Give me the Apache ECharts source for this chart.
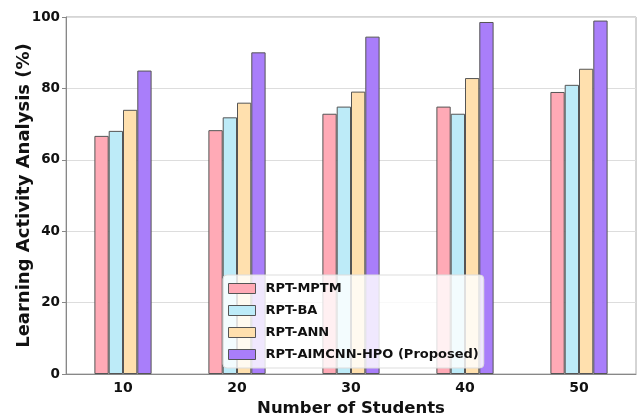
<!DOCTYPE html>
<html>
<head>
<meta charset="utf-8">
<script src="https://cdn.jsdelivr.net/npm/echarts@6/dist/echarts.min.js"></script>
<style>html,body{margin:0;padding:0;background:#fff}#c{width:638px;height:418px}</style>
</head>
<body>
<div id="c"></div>
<script>
var categories = ['10', '20', '30', '40', '50'];
var seriesNames = ['RPT-MPTM', 'RPT-BA', 'RPT-ANN', 'RPT-AIMCNN-HPO (Proposed)'];
var mptm = [66.7, 68.3, 72.9, 74.9, 79.0];
var ba = [68.1, 71.9, 74.9, 72.9, 81.0];
var ann = [74.0, 76.0, 79.1, 82.9, 85.5];
var proposed = [85.0, 90.1, 94.5, 98.6, 99.0];
var yTicks = [0, 20, 40, 60, 80, 100];
var colors = ['#FFAAB6', '#BDEBF8', '#FFE0AE', '#A97EFA'];
var values = [mptm, ba, ann, proposed];

var font = 'DejaVu Sans';
var chart = echarts.init(document.getElementById('c'), null, {renderer: 'canvas'});
chart.setOption({
  animation: false,
  backgroundColor: '#fff',
  grid: {left: 66, right: 2, top: 17, bottom: 44, containLabel: false, outerBoundsMode: 'none',
    show: true, borderColor: '#aaa', borderWidth: 1},
  legend: {
    orient: 'vertical', left: 223, top: 275,
    icon: 'rect',
    itemWidth: 27, itemHeight: 10, itemGap: 9,
    padding: [7, 5, 7, 5],
    backgroundColor: 'rgba(255,255,255,0.82)', borderColor: '#ddd', borderWidth: 1, borderRadius: 4,
    itemStyle: {borderColor: '#555', borderWidth: 1},
    textStyle: {fontFamily: font, fontWeight: 'bold', fontSize: 13, color: '#111', padding: [0, 0, 0, 5]},
    data: seriesNames
  },
  xAxis: {
    type: 'category', data: categories,
    name: 'Number of Students', nameLocation: 'middle', nameGap: 26, nameMoveOverlap: false,
    nameTextStyle: {fontFamily: font, fontWeight: 'bold', fontSize: 16.5, color: '#111'},
    axisLine: {lineStyle: {color: '#888'}},
    axisTick: {alignWithLabel: true, lineStyle: {color: '#888'}, length: 4},
    axisLabel: {fontFamily: font, fontWeight: 'bold', fontSize: 14, color: '#111', margin: 7}
  },
  yAxis: {
    type: 'value', min: 0, max: 100, interval: 20,
    name: 'Learning Activity Analysis (%)', nameLocation: 'middle', nameGap: 33, nameMoveOverlap: false,
    nameTextStyle: {fontFamily: font, fontWeight: 'bold', fontSize: 18, color: '#111'},
    axisLine: {show: true, lineStyle: {color: '#888'}},
    axisTick: {show: true, lineStyle: {color: '#888'}, length: 4},
    axisLabel: {fontFamily: font, fontWeight: 'bold', fontSize: 13.5, color: '#111', margin: 6,
      formatter: function (v) { return yTicks.indexOf(v) >= 0 ? String(v) : ''; }},
    splitLine: {lineStyle: {color: '#ddd'}}
  },
  series: seriesNames.map(function (n, i) {
    return {
      name: n, type: 'bar', data: values[i],
      barWidth: 14.3, barGap: '0%',
      itemStyle: {color: colors[i], borderColor: '#555', borderWidth: 1}
    };
  })
});
</script>
</body>
</html>
